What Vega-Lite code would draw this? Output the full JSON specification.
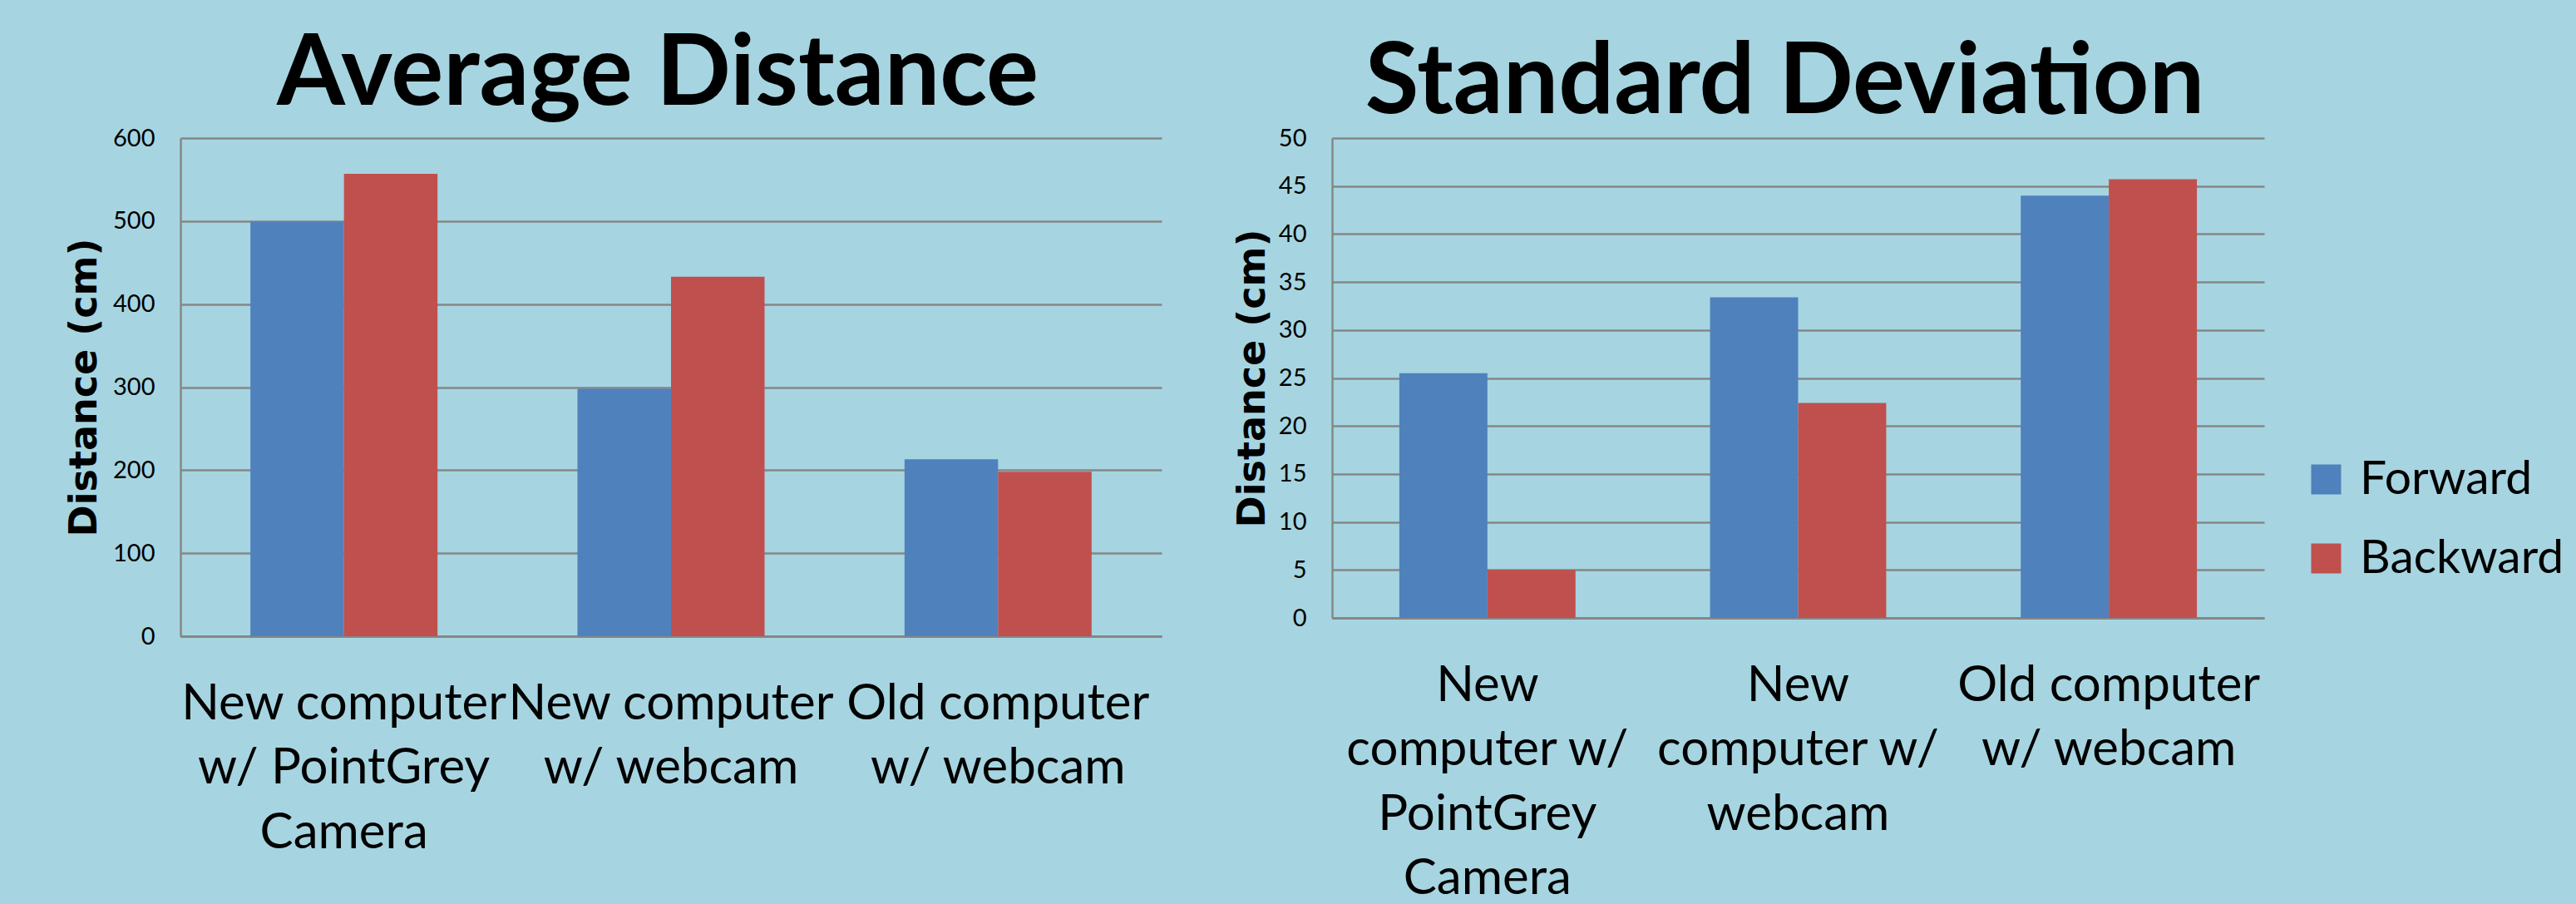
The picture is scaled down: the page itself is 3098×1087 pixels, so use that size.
{
  "$schema": "https://vega.github.io/schema/vega-lite/v6.json",
  "background": "#A6D5E1",
  "autosize": {"type": "pad"},
  "padding": {"left": 78, "top": 32, "right": 28, "bottom": 0},
  "bounds": "flush",
  "spacing": 205,
  "data": {
    "values": [
      {"setup": "New computer w/ PointGrey Camera", "direction": "Forward", "avg": 499, "sd": 25.5},
      {"setup": "New computer w/ PointGrey Camera", "direction": "Backward", "avg": 557, "sd": 5.0},
      {"setup": "New computer w/ webcam", "direction": "Forward", "avg": 298, "sd": 33.4},
      {"setup": "New computer w/ webcam", "direction": "Backward", "avg": 433, "sd": 22.4},
      {"setup": "Old computer w/ webcam", "direction": "Forward", "avg": 213, "sd": 44.0},
      {"setup": "Old computer w/ webcam", "direction": "Backward", "avg": 198, "sd": 45.7}
    ]
  },
  "hconcat": [
    {
      "title": {"text": "Average  Distance", "frame": "group", "baseline": "alphabetic", "offset": -92, "dx": -16},
      "width": 1180,
      "height": 599,
      "mark": {"type": "bar"},
      "encoding": {
        "x": {
          "field": "setup", "type": "nominal", "sort": null,
          "scale": {"paddingInner": 0.428, "paddingOuter": 0.214},
          "axis": {
            "title": null,
            "labelExpr": "datum.value == 'New computer w/ PointGrey Camera' ? ['New computer', 'w/ PointGrey', 'Camera'] : datum.value == 'New computer w/ webcam' ? ['New computer', 'w/ webcam'] : ['Old computer', 'w/ webcam']"
          }
        },
        "xOffset": {"field": "direction", "type": "nominal", "sort": ["Forward", "Backward"]},
        "y": {
          "field": "avg", "type": "quantitative",
          "scale": {"domain": [0, 600]},
          "axis": {"values": [0, 100, 200, 300, 400, 500, 600], "title": "Distance (cm)", "titlePadding": 10}
        },
        "color": {
          "field": "direction", "type": "nominal",
          "scale": {"domain": ["Forward", "Backward"], "range": ["#4F81BD", "#C0504D"]},
          "legend": null
        }
      }
    },
    {
      "title": {"text": "Standard Deviation", "frame": "group", "baseline": "alphabetic", "offset": -102, "dx": -16},
      "width": 1121,
      "height": 577,
      "mark": {"type": "bar"},
      "encoding": {
        "x": {
          "field": "setup", "type": "nominal", "sort": null,
          "scale": {"paddingInner": 0.433, "paddingOuter": 0.2165},
          "axis": {
            "title": null,
            "labelExpr": "datum.value == 'New computer w/ PointGrey Camera' ? ['New', 'computer w/', 'PointGrey', 'Camera'] : datum.value == 'New computer w/ webcam' ? ['New', 'computer w/', 'webcam'] : ['Old computer', 'w/ webcam']"
          }
        },
        "xOffset": {"field": "direction", "type": "nominal", "sort": ["Forward", "Backward"]},
        "y": {
          "field": "sd", "type": "quantitative",
          "scale": {"domain": [0, 50]},
          "axis": {"values": [0, 5, 10, 15, 20, 25, 30, 35, 40, 45, 50], "title": "Distance (cm)", "titlePadding": 7}
        },
        "color": {
          "field": "direction", "type": "nominal",
          "scale": {"domain": ["Forward", "Backward"], "range": ["#4F81BD", "#C0504D"]},
          "legend": {
            "title": null,
            "orient": "none",
            "legendX": 1167,
            "legendY": 382,
            "symbolType": "square",
            "symbolSize": 1296,
            "symbolStrokeWidth": 0,
            "symbolOpacity": 1,
            "labelFont": "Lato",
            "labelFontSize": 57,
            "labelColor": "#000000",
            "labelOffset": 12,
            "rowPadding": 37,
            "labelLimit": 0
          }
        }
      }
    }
  ],
  "resolve": {"scale": {"x": "independent", "y": "independent", "xOffset": "independent", "color": "independent"}, "legend": {"color": "independent"}},
  "config": {
    "view": {"stroke": null},
    "title": {"font": "Lato", "fontWeight": "bold", "fontSize": 118, "color": "#000000", "anchor": "middle"},
    "axisY": {
      "labelFont": "Lato", "labelFontSize": 29, "labelColor": "#000000", "labelPadding": 31,
      "ticks": false, "tickSize": 0,
      "domainColor": "#868686", "domainWidth": 2.5,
      "gridColor": "#868686", "gridWidth": 2.5,
      "titleFont": "DejaVu Sans", "titleFontWeight": "bold", "titleFontSize": 46, "titleColor": "#000000"
    },
    "axisX": {
      "labelFont": "Lato", "labelFontSize": 60, "labelColor": "#000000", "labelAngle": 0,
      "labelBaseline": "alphabetic", "labelPadding": 99, "labelLineHeight": 77.5,
      "labelLimit": 0, "labelOverlap": false, "labelBound": false,
      "ticks": false, "tickSize": 0,
      "domainColor": "#868686", "domainWidth": 3
    }
  }
}
